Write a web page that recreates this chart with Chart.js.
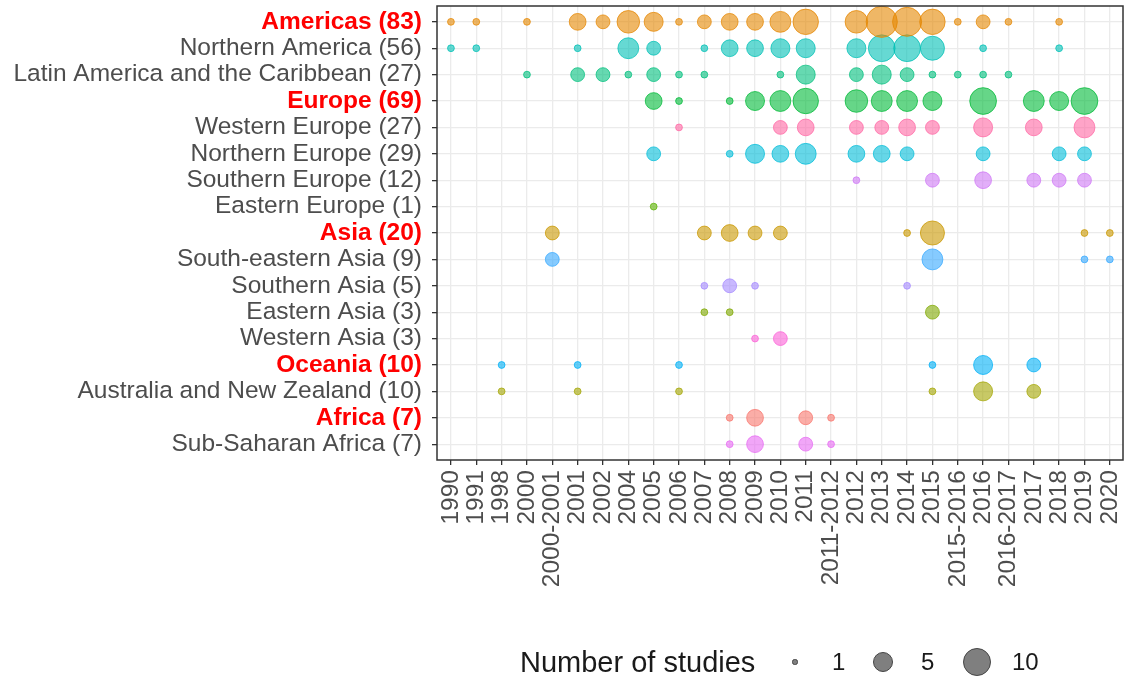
<!DOCTYPE html>
<html><head><meta charset="utf-8">
<script src="https://cdn.jsdelivr.net/npm/chart.js@4.4.1/dist/chart.umd.min.js"></script>
<style>
html,body{margin:0;padding:0;background:#fff;}
#wrap{position:relative;width:1128px;height:676px;}
#legend{position:absolute;left:0;top:644px;width:1128px;height:36px;font-family:"Liberation Sans",Arial,sans-serif;color:#1a1a1a;}
#legend span{position:absolute;line-height:36px;top:0;}
#legend i{position:absolute;display:block;border-radius:50%;background:#7f7f7f;border:1px solid #444;box-sizing:border-box;}
</style></head><body>
<div id="wrap"><canvas id="c" width="1128" height="676"></canvas>
<div id="legend"></div></div>
<script>
// x categories (study period)
const years = ["1990","1991","1998","2000","2000-2001","2001","2002","2004","2005","2006","2007","2008","2009","2010","2011","2011-2012","2012","2013","2014","2015","2015-2016","2016","2016-2017","2017","2018","2019","2020"];
// y categories (regions / sub-regions)
const regions = ["Americas (83)","Northern America (56)","Latin America and the Caribbean (27)","Europe (69)","Western Europe (27)","Northern Europe (29)","Southern Europe (12)","Eastern Europe (1)","Asia (20)","South-eastern Asia (9)","Southern Asia (5)","Eastern Asia (3)","Western Asia (3)","Oceania (10)","Australia and New Zealand (10)","Africa (7)","Sub-Saharan Africa (7)"];
const isRegion = [true,false,false,true,false,false,false,false,true,false,false,false,false,true,false,true,false];

// number of studies per period (same order as years)
const americas        = [1,1,0,1,0,3,2,6,4,1,2,3,3,5,8,0,6,13,11,8,1,2,1,0,1,0,0];
const northernAmerica = [1,1,0,0,0,1,0,5,2,0,1,3,3,4,4,0,4,9,9,7,0,1,0,0,1,0,0];
const latinAmerica    = [0,0,0,1,0,2,2,1,2,1,1,0,0,1,4,0,2,4,2,1,1,1,1,0,0,0,0];
const europe          = [0,0,0,0,0,0,0,0,3,1,0,1,4,5,8,0,6,5,5,4,0,9,0,5,4,9,0];
const westernEurope   = [0,0,0,0,0,0,0,0,0,1,0,0,0,2,3,0,2,2,3,2,0,4,0,3,0,5,0];
const northernEurope  = [0,0,0,0,0,0,0,0,2,0,0,1,4,3,5,0,3,3,2,0,0,2,0,0,2,2,0];
const southernEurope  = [0,0,0,0,0,0,0,0,0,0,0,0,0,0,0,0,1,0,0,2,0,3,0,2,2,2,0];
const easternEurope   = [0,0,0,0,0,0,0,0,1,0,0,0,0,0,0,0,0,0,0,0,0,0,0,0,0,0,0];
const asia            = [0,0,0,0,2,0,0,0,0,0,2,3,2,2,0,0,0,0,1,7,0,0,0,0,0,1,1];
const seAsia          = [0,0,0,0,2,0,0,0,0,0,0,0,0,0,0,0,0,0,0,5,0,0,0,0,0,1,1];
const southernAsia    = [0,0,0,0,0,0,0,0,0,0,1,2,1,0,0,0,0,0,1,0,0,0,0,0,0,0,0];
const easternAsia     = [0,0,0,0,0,0,0,0,0,0,1,1,0,0,0,0,0,0,0,2,0,0,0,0,0,0,0];
const westernAsia     = [0,0,0,0,0,0,0,0,0,0,0,0,1,2,0,0,0,0,0,0,0,0,0,0,0,0,0];
const oceania         = [0,0,1,0,0,1,0,0,0,1,0,0,0,0,0,0,0,0,0,1,0,4,0,2,0,0,0];
const anz             = [0,0,1,0,0,1,0,0,0,1,0,0,0,0,0,0,0,0,0,1,0,4,0,2,0,0,0];
const africa          = [0,0,0,0,0,0,0,0,0,0,0,1,3,0,2,1,0,0,0,0,0,0,0,0,0,0,0];
const ssAfrica        = [0,0,0,0,0,0,0,0,0,0,0,1,3,0,2,1,0,0,0,0,0,0,0,0,0,0,0];

const legendBreaks = [1,5,10];

const rows = [americas,northernAmerica,latinAmerica,europe,westernEurope,northernEurope,southernEurope,easternEurope,asia,seAsia,southernAsia,easternAsia,westernAsia,oceania,anz,africa,ssAfrica];
const rowColors = ["#E58700","#00C0B5","#00BF7D","#00BA38","#FF67A4","#00BCD8","#CF78F5","#5BB300","#C99800","#35A8FF","#A58AFF","#7FA800","#FB61D7","#00B0F6","#A3A500","#F8766D","#E76BF3"];

const FONT = '"Liberation Sans", Arial, sans-serif';
const NMAX = 13, RMIN = 3.4, RMAX = 15.6;
function radius(n){ return RMIN + (RMAX-RMIN)*Math.sqrt((n-1)/(NMAX-1)); }
function rgba(hex,a){ const v=parseInt(hex.slice(1),16); return `rgba(${v>>16&255},${v>>8&255},${v&255},${a})`; }

const datasets = rows.map((arr,ri)=>({
  label: regions[ri],
  data: arr.map((n,xi)=> n>0 ? {x:xi, y:ri, r:radius(n)} : null).filter(Boolean),
  backgroundColor: rgba(rowColors[ri],0.6),
  borderColor: rgba(rowColors[ri],0.75),
  borderWidth: 1,
  clip: false
}));

const panelBorder = {
  id:'panelBorder',
  afterDraw(chart){
    const {ctx, chartArea:a} = chart;
    ctx.save(); ctx.strokeStyle='#333'; ctx.lineWidth=1.5;
    ctx.strokeRect(a.left, a.top, a.right-a.left, a.bottom-a.top);
    ctx.restore();
  }
};

new Chart(document.getElementById('c'), {
  type:'bubble',
  data:{datasets},
  options:{
    responsive:false, animation:false, events:[],
    layout:{autoPadding:false, padding:{top:6,right:5,left:0,bottom:0}},
    plugins:{legend:{display:false}, tooltip:{enabled:false}},
    scales:{
      x:{
        type:'linear', min:-0.55, max:26.52,
        afterBuildTicks:s=>{ s.ticks = years.map((_,i)=>({value:i})); },
        afterFit:s=>{ s.height = 216; s.paddingLeft = 0; s.paddingRight = 0; },
        ticks:{autoSkip:false, minRotation:90, maxRotation:90, padding:5,
          callback:v=>years[v], color:'#4D4D4D', font:{family:FONT,size:24.5}},
        grid:{color:'#EBEBEB', lineWidth:1.3, tickLength:5, tickColor:'#333', tickWidth:1.3},
        border:{display:false}
      },
      y:{
        type:'linear', reverse:true, min:-0.6, max:16.6,
        afterBuildTicks:s=>{ s.ticks = regions.map((_,i)=>({value:i})); },
        afterFit:s=>{ s.width = 437; s.paddingTop = 0; s.paddingBottom = 0; },
        ticks:{autoSkip:false, padding:10, callback:v=>regions[v],
          color:c=> isRegion[c.index] ? '#FF0000' : '#4D4D4D',
          font:c=>({family:FONT, size:24.5, weight: isRegion[c.index] ? 'bold' : 'normal'})},
        grid:{color:'#EBEBEB', lineWidth:1.3, tickLength:5, tickColor:'#333', tickWidth:1.3},
        border:{display:false}
      }
    }
  },
  plugins:[panelBorder]
});

// legend (Number of studies)
const lg = document.getElementById('legend');
const t = document.createElement('span'); t.textContent='Number of studies';
t.style.left='520px'; t.style.fontSize='29px'; lg.appendChild(t);
const legendPos = [{cx:795, tx:832, r:2.6},{cx:883, tx:921, r:radius(5)},{cx:977, tx:1012, r:radius(10)}];
legendBreaks.forEach((b,i)=>{
  const p = legendPos[i];
  const d = document.createElement('i');
  d.style.width = d.style.height = (2*p.r)+'px';
  d.style.left = (p.cx-p.r)+'px'; d.style.top = (18-p.r)+'px';
  lg.appendChild(d);
  const s = document.createElement('span'); s.textContent = String(b);
  s.style.left = p.tx+'px'; s.style.fontSize='24px'; lg.appendChild(s);
});
</script>
</body></html>
